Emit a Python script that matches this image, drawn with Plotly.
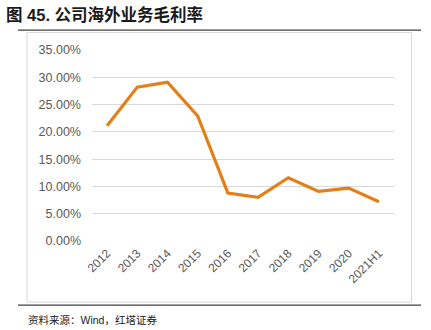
import plotly.graph_objects as go

# Overseas business gross margin by year
years = ["2012", "2013", "2014", "2015", "2016", "2017", "2018", "2019", "2020", "2021H1"]
margin_pct = [21.1, 28.2, 29.1, 22.9, 8.8, 8.0, 11.6, 9.1, 9.7, 7.2]
y_ticks = [0, 5, 10, 15, 20, 25, 30, 35]
y_tick_text = [f"{v:.2f}%" for v in y_ticks]

title_text = "<b>图 45. 公司海外业务毛利率</b>"
source_text = "资料来源：Wind，红塔证券"

W, H = 431, 330
L, R, T, B = 92, 37, 50, 88.7
pw, ph = W - L - R, H - T - B


def px_x(x):
    return (x - L) / pw


def px_y(y):
    return (H - B - y) / ph


fig = go.Figure()
fig.add_trace(go.Scatter(
    x=years, y=margin_pct, mode="lines",
    line=dict(color="#E37F16", width=3.2),
    hoverinfo="skip", showlegend=False,
))

font_family = "Liberation Sans, Arial, Noto Sans CJK SC, sans-serif"

fig.update_layout(
    width=W, height=H,
    margin=dict(l=L, r=R, t=T, b=B),
    paper_bgcolor="white", plot_bgcolor="white",
    font=dict(family=font_family, color="#595959", size=12),
    xaxis=dict(
        type="category", range=[-0.5, 9.5],
        showgrid=False, showline=False, zeroline=False, ticks="",
        tickangle=-45, tickfont=dict(size=12, color="#595959"),
        ticklabelstandoff=2,
    ),
    yaxis=dict(
        range=[0, 35], tickvals=y_ticks, ticktext=y_tick_text,
        showgrid=True, gridcolor="#D9D9D9", gridwidth=1,
        zeroline=False, showline=False, ticks="",
        tickfont=dict(size=12.5, color="#595959"),
        ticklabelstandoff=10,
    ),
    shapes=[
        # light frame around the chart body
        dict(type="rect", xref="paper", yref="paper",
             x0=px_x(27), x1=px_x(411.5), y0=px_y(302.5), y1=px_y(32.5),
             line=dict(color="#D9D9D9", width=1), layer="below"),
        # dark rules above and below
        dict(type="line", xref="paper", yref="paper",
             x0=px_x(18), x1=px_x(421), y0=px_y(30), y1=px_y(30),
             line=dict(color="#404040", width=1.3)),
        dict(type="line", xref="paper", yref="paper",
             x0=px_x(18), x1=px_x(421), y0=px_y(305.5), y1=px_y(305.5),
             line=dict(color="#404040", width=1.3)),
    ],
    annotations=[
        dict(text=title_text, xref="paper", yref="paper",
             x=px_x(4), y=px_y(14), xanchor="left", yanchor="middle",
             showarrow=False,
             font=dict(size=16.5, color="#1a1a1a",
                       family="Liberation Sans, Noto Sans CJK SC, sans-serif")),
        dict(text=source_text, xref="paper", yref="paper",
             x=px_x(26), y=px_y(320), xanchor="left", yanchor="middle",
             showarrow=False,
             font=dict(size=10.5, color="#1a1a1a",
                       family="Liberation Sans, Noto Sans CJK SC, sans-serif")),
    ],
)

fig.write_html("out.html")
